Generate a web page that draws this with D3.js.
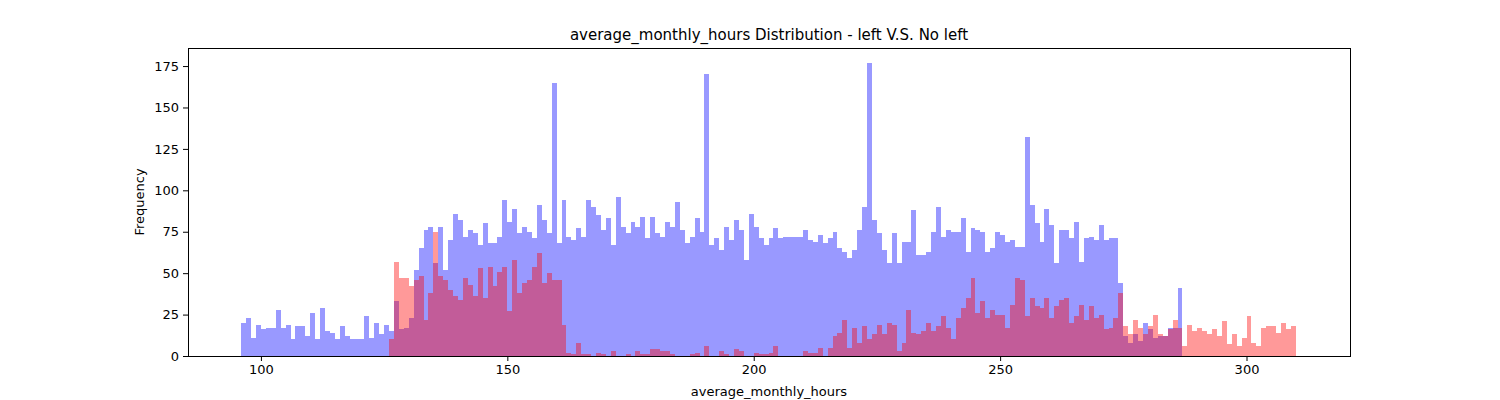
<!DOCTYPE html>
<html>
<head>
<meta charset="utf-8">
<script src="https://cdn.jsdelivr.net/npm/d3@7"></script>
<style>
  body { margin: 0; background: #fff; }
  text { font-family: "DejaVu Sans", sans-serif; }
</style>
</head>
<body>
<svg id="chart" width="1500" height="400"></svg>
<script>
// counts per 1-hour bin
const stayStart = 96;
const stayCounts = [
  20,23,11,19,16,17,17,28,17,19,10,18,18,12,26,10,29,15,14,10,18,12,10,10,10,24,11,20,13,19,
  15,33,16,17,23,52,65,76,78,56,78,52,70,86,82,72,76,74,67,80,68,68,72,94,81,89,74,78,75,71,91,82,74,
  165,
  68,94,72,70,77,72,94,90,85,76,83,67,96,78,74,81,78,84,71,84,74,72,81,78,93,76,68,72,83,75,
  170,67,
  71,64,78,70,82,76,58,86,78,71,67,71,77,71,72,72,72,72,76,70,69,73,68,71,75,65,63,59,64,76,90,
  177,
  82,74,64,56,74,56,69,69,88,
  61,61,63,75,90,72,76,75,75,83,63,77,76,75,63,65,75,73,69,70,66,66,132,91,80,69,89,79,56,76,76,71,81,57,71,72,70,
  79,70,71,71,44,12,8,13,9,20,16,11,12,12,17,17,41
];
const leftStart = 126;
const leftCounts = [
  10,57,47,47,42,46,48,22,38,75,48,46,40,36,34,47,43,36,53,35,54,42,51,54,27,58,38,44,46,54,62,44,50,
  46,46,19,2,1,8,1,1,0,2,1,0,3,0,0,1,0,3,1,1,4,4,3,3,1,0,0,0,1,2,0,6,0,
  0,3,1,0,4,3,0,0,2,1,1,2,6,0,0,0,0,0,3,2,2,5,0,5,12,14,22,5,17,8,18,
  10,13,19,13,20,19,3,8,28,14,
  13,15,20,15,18,24,17,10,23,29,35,47,26,33,23,28,25,25,17,31,47,46,24,35,30,29,35,23,30,34,35,20,24,
  31,22,30,23,25,16,17,23,38,18,13,22,17,13,18,25,13,12,16,22,17,6,19,15,17,15,13,16,12,21,7,13,6,11,24,8,6,17,18,18,14,20,16,18
];
const xTicks = [100, 150, 200, 250, 300];
const yTicks = [0, 25, 50, 75, 100, 125, 150, 175];

const toBins = (start, counts) => counts.map((c, i) => ({ x0: start + i, x1: start + i + 1, n: c }));

const margin = { top: 48, right: 150, bottom: 44, left: 188 };
const width = 1500, height = 400;
const svg = d3.select('#chart');

const x = d3.scaleLinear().domain([85.2, 321.0]).range([margin.left, width - margin.right]);
const y = d3.scaleLinear().domain([0, 185.9]).range([height - margin.bottom, margin.top]);

function drawHist(bins, color) {
  svg.append('g')
    .selectAll('rect')
    .data(bins)
    .join('rect')
    .attr('x', d => x(d.x0))
    .attr('width', d => x(d.x1) - x(d.x0))
    .attr('y', d => y(d.n))
    .attr('height', d => y(0) - y(d.n))
    .attr('fill', color)
    .attr('fill-opacity', 0.4)
    .attr('shape-rendering', 'crispEdges');
}

drawHist(toBins(stayStart, stayCounts), 'blue');
drawHist(toBins(leftStart, leftCounts), 'red');

const xAxis = svg.append('g')
  .attr('transform', `translate(0,${height - margin.bottom})`)
  .call(d3.axisBottom(x).tickValues(xTicks).tickSize(5).tickPadding(4).tickFormat(d3.format('d')));
const yAxis = svg.append('g')
  .attr('transform', `translate(${margin.left},0)`)
  .call(d3.axisLeft(y).tickValues(yTicks).tickSize(5).tickPadding(4).tickFormat(d3.format('d')));
[xAxis, yAxis].forEach(g => {
  g.select('.domain').remove();
  g.selectAll('text').attr('font-size', 13).attr('fill', '#000').style('font-family', '"DejaVu Sans", sans-serif');
  g.selectAll('line').attr('stroke', '#000');
});

// frame
svg.append('rect')
  .attr('x', margin.left).attr('y', margin.top)
  .attr('width', width - margin.left - margin.right)
  .attr('height', height - margin.top - margin.bottom)
  .attr('fill', 'none').attr('stroke', '#000').attr('stroke-width', 1)
  .attr('shape-rendering', 'crispEdges');

svg.append('text')
  .attr('x', (margin.left + width - margin.right) / 2).attr('y', 40)
  .attr('text-anchor', 'middle').attr('font-size', 15)
  .text('average_monthly_hours Distribution - left V.S. No left');

svg.append('text')
  .attr('x', (margin.left + width - margin.right) / 2).attr('y', 396)
  .attr('text-anchor', 'middle').attr('font-size', 13)
  .text('average_monthly_hours');

svg.append('text')
  .attr('transform', `translate(144,${(margin.top + height - margin.bottom) / 2}) rotate(-90)`)
  .attr('text-anchor', 'middle').attr('font-size', 13)
  .text('Frequency');
</script>
</body>
</html>
